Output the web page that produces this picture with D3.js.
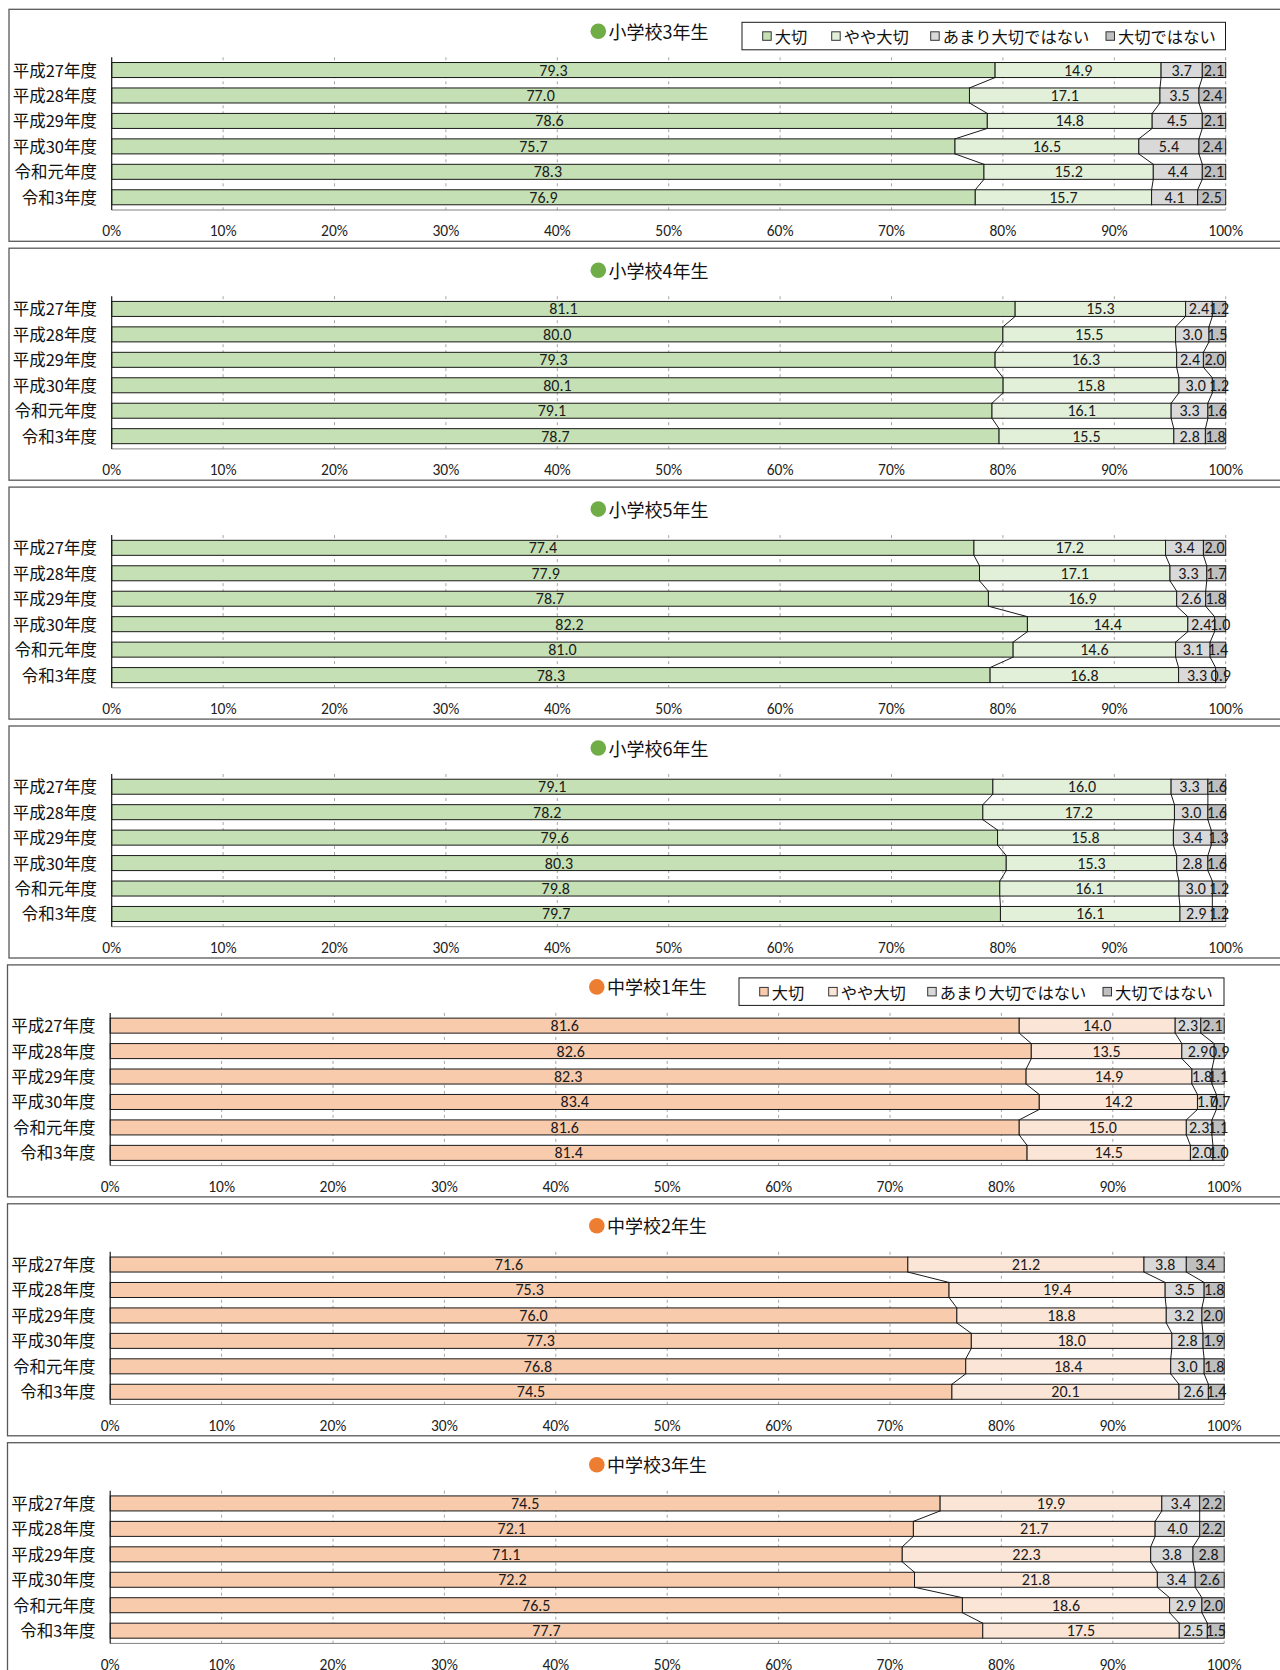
<!DOCTYPE html>
<html lang="ja">
<head>
<meta charset="utf-8">
<script src="https://cdn.jsdelivr.net/npm/d3@7"></script>
<style>
  html, body { margin: 0; padding: 0; background: #fff; }
  svg { display: block; }
</style>
</head>
<body>
<svg id="chart" width="1280" height="1670"></svg>
<script>
// ---------- DATA ----------
const categories = ["平成27年度", "平成28年度", "平成29年度", "平成30年度", "令和元年度", "令和3年度"];
const seriesNames = ["大切", "やや大切", "あまり大切ではない", "大切ではない"];
const tickValues = [0, 10, 20, 30, 40, 50, 60, 70, 80, 90, 100];
const tickLabels = ["0%", "10%", "20%", "30%", "40%", "50%", "60%", "70%", "80%", "90%", "100%"];
const panelTitles = ["小学校3年生", "小学校4年生", "小学校5年生", "小学校6年生", "中学校1年生", "中学校2年生", "中学校3年生"];

const sho3 = [[79.3, 14.9, 3.7, 2.1], [77.0, 17.1, 3.5, 2.4], [78.6, 14.8, 4.5, 2.1], [75.7, 16.5, 5.4, 2.4], [78.3, 15.2, 4.4, 2.1], [76.9, 15.7, 4.1, 2.5]];
const sho4 = [[81.1, 15.3, 2.4, 1.2], [80.0, 15.5, 3.0, 1.5], [79.3, 16.3, 2.4, 2.0], [80.1, 15.8, 3.0, 1.2], [79.1, 16.1, 3.3, 1.6], [78.7, 15.5, 2.8, 1.8]];
const sho5 = [[77.4, 17.2, 3.4, 2.0], [77.9, 17.1, 3.3, 1.7], [78.7, 16.9, 2.6, 1.8], [82.2, 14.4, 2.4, 1.0], [81.0, 14.6, 3.1, 1.4], [78.3, 16.8, 3.3, 0.9]];
const sho6 = [[79.1, 16.0, 3.3, 1.6], [78.2, 17.2, 3.0, 1.6], [79.6, 15.8, 3.4, 1.3], [80.3, 15.3, 2.8, 1.6], [79.8, 16.1, 3.0, 1.2], [79.7, 16.1, 2.9, 1.2]];
const chu1 = [[81.6, 14.0, 2.3, 2.1], [82.6, 13.5, 2.9, 0.9], [82.3, 14.9, 1.8, 1.1], [83.4, 14.2, 1.7, 0.7], [81.6, 15.0, 2.3, 1.1], [81.4, 14.5, 2.0, 1.0]];
const chu2 = [[71.6, 21.2, 3.8, 3.4], [75.3, 19.4, 3.5, 1.8], [76.0, 18.8, 3.2, 2.0], [77.3, 18.0, 2.8, 1.9], [76.8, 18.4, 3.0, 1.8], [74.5, 20.1, 2.6, 1.4]];
const chu3 = [[74.5, 19.9, 3.4, 2.2], [72.1, 21.7, 4.0, 2.2], [71.1, 22.3, 3.8, 2.8], [72.2, 21.8, 3.4, 2.6], [76.5, 18.6, 2.9, 2.0], [77.7, 17.5, 2.5, 1.5]];

const panelData = [sho3, sho4, sho5, sho6, chu1, chu2, chu3];
const panelTheme = ["sho", "sho", "sho", "sho", "chu", "chu", "chu"];
const panelLegend = [true, false, false, false, true, false, false];

// ---------- STYLE ----------
const themes = {
  sho: { dot: "#70AD47", fills: ["#C5E0B4", "#E2F0D9", "#D9D9D9", "#BFBFBF"] },
  chu: { dot: "#ED7D31", fills: ["#F8CBAD", "#FBE5D6", "#D9D9D9", "#BFBFBF"] }
};
const cjk = "'Noto Sans CJK JP', 'Noto Sans', sans-serif";
const num = "Carlito, 'Liberation Sans Narrow', 'Noto Sans', sans-serif";

const svg = d3.select("#chart");
const fmt = d3.format(".1f");

const panelStep = 238.9;
const panelTop0 = 9.3;
const panelH = 232;

panelData.forEach((rows, p) => {
  const top = panelTop0 + p * panelStep;
  const dx = p >= 4 ? -1.5 : 0;
  const theme = themes[panelTheme[p]];
  const g = svg.append("g").attr("transform", `translate(${dx},${top})`);

  // panel frame
  g.append("rect")
    .attr("x", 9).attr("y", 0)
    .attr("width", 1300).attr("height", panelH)
    .attr("fill", "#fff").attr("stroke", "#595959").attr("stroke-width", 1.3);

  const x = d3.scaleLinear().domain([0, 1]).range([111.7, 1225.7]);
  const y = d3.scaleBand().domain(categories).range([48, 200.7]).paddingInner(0.41).paddingOuter(0.205);
  const bw = y.bandwidth();

  // table for stack
  const table = rows.map((r, i) => {
    const o = { cat: categories[i] };
    seriesNames.forEach((s, k) => o[s] = r[k]);
    return o;
  });
  const stack = d3.stack().keys(seriesNames).offset(d3.stackOffsetExpand)(table);

  // gridlines
  g.append("g").selectAll("line").data(tickValues.slice(1))
    .join("line")
    .attr("x1", d => x(d / 100)).attr("x2", d => x(d / 100))
    .attr("y1", 48).attr("y2", 200.7)
    .attr("stroke", "#A6A6A6").attr("stroke-width", 1)
    .attr("stroke-dasharray", "3,3");

  // bars
  stack.forEach((layer, k) => {
    g.append("g").selectAll("rect").data(layer)
      .join("rect")
      .attr("x", d => x(d[0]))
      .attr("y", d => y(d.data.cat))
      .attr("width", d => x(d[1]) - x(d[0]))
      .attr("height", bw)
      .attr("fill", theme.fills[k])
      .attr("stroke", "#1a1a1a").attr("stroke-width", 1);
  });

  // series lines
  for (let k = 0; k < 3; k++) {
    const layer = stack[k];
    const segs = d3.range(layer.length - 1).map(i => ({ a: layer[i], b: layer[i + 1] }));
    g.append("g").selectAll("line").data(segs)
      .join("line")
      .attr("x1", d => x(d.a[1])).attr("y1", d => y(d.a.data.cat) + bw)
      .attr("x2", d => x(d.b[1])).attr("y2", d => y(d.b.data.cat))
      .attr("stroke", "#1a1a1a").attr("stroke-width", 1);
  }

  // value labels
  stack.forEach((layer, k) => {
    g.append("g").selectAll("text").data(layer)
      .join("text")
      .attr("x", d => (x(d[0]) + x(d[1])) / 2)
      .attr("y", d => y(d.data.cat) + bw / 2)
      .attr("text-anchor", "middle")
      .attr("dominant-baseline", "central")
      .attr("font-family", num).attr("font-size", 16)
      .attr("fill", "#1a1a1a")
      .text(d => fmt(d.data[seriesNames[k]]));
  });

  // axes lines
  g.append("line").attr("x1", x(0)).attr("x2", x(1)).attr("y1", 200.7).attr("y2", 200.7)
    .attr("stroke", "#808080").attr("stroke-width", 1);
  g.append("line").attr("x1", x(0)).attr("x2", x(0)).attr("y1", 48).attr("y2", 200.7)
    .attr("stroke", "#1a1a1a").attr("stroke-width", 1.2);

  // category labels
  g.append("g").selectAll("text").data(categories)
    .join("text")
    .attr("x", 97).attr("y", d => y(d) + bw / 2 - 0.5)
    .attr("text-anchor", "end").attr("dominant-baseline", "central")
    .attr("font-family", cjk).attr("font-size", 16.5).attr("fill", "#111")
    .text(d => d);

  // tick labels
  g.append("g").selectAll("text").data(tickValues)
    .join("text")
    .attr("x", d => x(d / 100)).attr("y", 221.5)
    .attr("text-anchor", "middle").attr("dominant-baseline", "central")
    .attr("font-family", num).attr("font-size", 15.5).attr("fill", "#222")
    .text((d, i) => tickLabels[i]);

  // title
  g.append("circle").attr("cx", 598.3).attr("cy", 22).attr("r", 7.8).attr("fill", theme.dot);
  g.append("text").attr("x", 608.5).attr("y", 21.5).attr("dominant-baseline", "central")
    .attr("font-family", cjk).attr("font-size", 18).attr("fill", "#111")
    .text(panelTitles[p]);

  // legend
  if (panelLegend[p]) {
    const lx = p === 0 ? 742 : 740.5;
    g.append("rect").attr("x", lx).attr("y", 13).attr("width", 1225.5 - lx).attr("height", 27.5)
      .attr("fill", "#fff").attr("stroke", "#1a1a1a").attr("stroke-width", 1);
    const itemX = [762.7, 831.7, 930.7, 1106];
    const lg = g.append("g").selectAll("g").data(seriesNames).join("g")
      .attr("transform", (d, i) => `translate(${itemX[i] + (lx - 742)},27)`);
    lg.append("rect").attr("x", 0).attr("y", -4.5).attr("width", 8.5).attr("height", 8.5)
      .attr("fill", (d, i) => theme.fills[i]).attr("stroke", "#333").attr("stroke-width", 1);
    lg.append("text").attr("x", 12).attr("y", 0).attr("dominant-baseline", "central")
      .attr("font-family", cjk).attr("font-size", 16.3).attr("fill", "#111")
      .text(d => d);
  }
});
</script>
</body>
</html>
